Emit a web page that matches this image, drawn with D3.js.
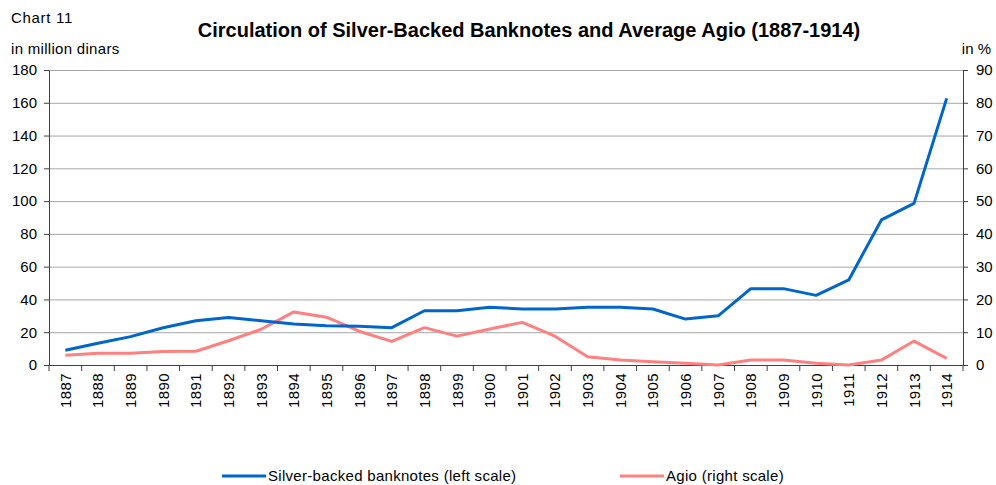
<!DOCTYPE html>
<html>
<head>
<meta charset="utf-8">
<script src="https://cdn.jsdelivr.net/npm/d3@7"></script>
<style>
  body { margin: 0; background: #fff; }
  text { font-family: "Liberation Sans", Arial, sans-serif; fill: #000; }
</style>
</head>
<body>
<div id="chart"></div>
<script>
'use strict';

var years = ['1887', '1888', '1889', '1890', '1891', '1892', '1893', '1894', '1895', '1896',
    '1897', '1898', '1899', '1900', '1901', '1902', '1903', '1904', '1905', '1906',
    '1907', '1908', '1909', '1910', '1911', '1912', '1913', '1914'];

// million dinars, left scale
var banknotes = [9, 13.3, 17.3, 22.7, 27, 29, 27, 25, 24, 23.7,
    22.8, 33.1, 33.1, 35.2, 34.2, 34.2, 35.2, 35.2, 34.2, 28,
    30, 46.6, 46.6, 42.5, 51.9, 88.5, 98.6, 162.7];

// percent, right scale
var agio = [3, 3.6, 3.6, 4.1, 4.2, 7.4, 10.9, 16.2, 14.6, 10.3,
    7.2, 11.4, 8.8, 11, 13, 8.8, 2.5, 1.5, 1, 0.5,
    0, 1.5, 1.5, 0.5, 0, 1.5, 7.3, 2];

var leftTicks = [0, 20, 40, 60, 80, 100, 120, 140, 160, 180];
var rightTicks = [0, 10, 20, 30, 40, 50, 60, 70, 80, 90];

var width = 996, height = 485;
var margin = {top: 70, right: 33, bottom: 120, left: 49};
var plotW = width - margin.left - margin.right;
var plotH = height - margin.top - margin.bottom;
var fs = 15;

var svg = d3.select('#chart').append('svg')
    .attr('width', width)
    .attr('height', height);

var x = d3.scaleBand().domain(years).range([0, plotW]);
var yL = d3.scaleLinear().domain([0, 180]).range([plotH, 0]);
var yR = d3.scaleLinear().domain([0, 90]).range([plotH, 0]);

var g = svg.append('g').attr('transform', 'translate(' + margin.left + ',' + margin.top + ')');

// gridlines
g.append('g').selectAll('line')
    .data(leftTicks.slice(1))
    .enter().append('line')
    .attr('x1', 0).attr('x2', plotW)
    .attr('y1', function(d) { return yL(d) + 0.5; })
    .attr('y2', function(d) { return yL(d) + 0.5; })
    .attr('stroke', '#a6a6a6')
    .attr('stroke-width', 1);

function styleAxis(sel) {
    sel.selectAll('.domain').attr('stroke', '#404040');
    sel.selectAll('.tick line').attr('stroke', '#404040');
    sel.selectAll('text').attr('font-size', fs).attr('fill', '#000');
}

var axL = g.append('g')
    .call(d3.axisLeft(yL).tickValues(leftTicks).tickSize(5).tickSizeOuter(0).tickPadding(7));
styleAxis(axL);

var axR = g.append('g')
    .attr('transform', 'translate(' + plotW + ',0)')
    .call(d3.axisRight(yR).tickValues(rightTicks).tickSize(5).tickSizeOuter(0).tickPadding(8));
styleAxis(axR);

// bottom axis: ticks on category boundaries
var axB = g.append('g')
    .attr('transform', 'translate(0,' + plotH + ')');
axB.append('line')
    .attr('x1', 0).attr('x2', plotW)
    .attr('y1', 0.5).attr('y2', 0.5)
    .attr('stroke', '#404040');
axB.selectAll('line.tk')
    .data(years.concat(['end']))
    .enter().append('line')
    .attr('class', 'tk')
    .attr('x1', function(d, i) { return i * x.step(); })
    .attr('x2', function(d, i) { return i * x.step(); })
    .attr('y1', 0).attr('y2', 6)
    .attr('stroke', '#404040');
axB.selectAll('text')
    .data(years)
    .enter().append('text')
    .attr('transform', function(d) {
        return 'translate(' + (x(d) + x.bandwidth() / 2 + 5.5) + ',' + 8 + ') rotate(-90)';
    })
    .attr('text-anchor', 'end')
    .attr('font-size', fs)
    .attr('letter-spacing', 0.4)
    .text(function(d) { return d; });

// lines
var cx = function(d, i) { return x(years[i]) + x.bandwidth() / 2; };

g.append('path')
    .datum(agio)
    .attr('fill', 'none')
    .attr('stroke', '#ff8080')
    .attr('stroke-width', 3)
    .attr('stroke-linejoin', 'round')
    .attr('d', d3.line().x(cx).y(function(d) { return yR(d); }));

g.append('path')
    .datum(banknotes)
    .attr('fill', 'none')
    .attr('stroke', '#0066cc')
    .attr('stroke-width', 3)
    .attr('stroke-linejoin', 'round')
    .attr('d', d3.line().x(cx).y(function(d) { return yL(d); }));

// texts
svg.append('text').attr('x', 11).attr('y', 23).attr('font-size', fs)
    .attr('letter-spacing', 0.7).text('Chart 11');
svg.append('text').attr('x', 529).attr('y', 37).attr('text-anchor', 'middle')
    .attr('font-size', 20).attr('font-weight', 'bold')
    .text('Circulation of Silver-Backed Banknotes and Average Agio (1887-1914)');
svg.append('text').attr('x', 11).attr('y', 54).attr('font-size', fs)
    .attr('letter-spacing', 0.3).text('in million dinars');
svg.append('text').attr('x', 991).attr('y', 54).attr('text-anchor', 'end').attr('font-size', fs)
    .text('in %');

// legend
var legend = [
    {label: 'Silver-backed banknotes (left scale)', color: '#0066cc', x: 222},
    {label: 'Agio (right scale)', color: '#ff8080', x: 620}
];
var lg = svg.append('g').selectAll('g')
    .data(legend)
    .enter().append('g')
    .attr('transform', function(d) { return 'translate(' + d.x + ',476)'; });
lg.append('line')
    .attr('x1', 0).attr('x2', 44)
    .attr('y1', 0).attr('y2', 0)
    .attr('stroke', function(d) { return d.color; })
    .attr('stroke-width', 3);
lg.append('text')
    .attr('x', 46).attr('y', 5)
    .attr('font-size', fs)
    .attr('letter-spacing', 0.3)
    .text(function(d) { return d.label; });
</script>
</body>
</html>
